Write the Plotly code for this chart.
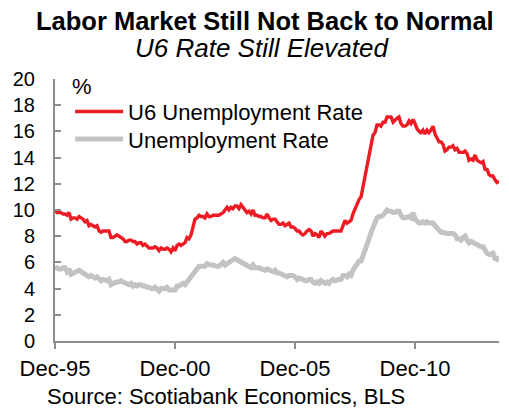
import pandas as pd
import plotly.graph_objects as go

# Monthly rates, Dec 1995 - Jun 2014 (%)
u6_rate = [
    10.0,
    9.8, 9.8, 9.8, 9.7, 9.7, 9.6, 9.8, 9.3, 9.4, 9.4, 9.3, 9.5,        # 1996
    9.4, 9.3, 9.1, 9.2, 8.8, 8.9, 8.8, 8.7, 8.8, 8.4, 8.3, 8.4,        # 1997
    8.4, 8.4, 8.4, 7.9, 7.9, 8.0, 8.1, 8.0, 7.9, 7.8, 7.6, 7.6,        # 1998
    7.7, 7.7, 7.6, 7.6, 7.4, 7.5, 7.5, 7.3, 7.4, 7.2, 7.1, 7.1,        # 1999
    7.1, 7.2, 7.1, 6.9, 7.1, 7.0, 7.0, 7.1, 7.0, 6.8, 7.1, 6.9,        # 2000
    7.3, 7.4, 7.3, 7.4, 7.5, 7.9, 7.8, 8.1, 8.7, 9.3, 9.4, 9.6,        # 2001
    9.5, 9.5, 9.4, 9.7, 9.5, 9.5, 9.6, 9.6, 9.6, 9.6, 9.7, 9.8,        # 2002
    10.0, 10.2, 10.0, 10.2, 10.1, 10.3, 10.3, 10.1, 10.4, 10.2, 10.0, 9.8,  # 2003
    9.9, 9.7, 10.0, 9.6, 9.6, 9.5, 9.5, 9.4, 9.4, 9.7, 9.4, 9.2,       # 2004
    9.3, 9.3, 9.1, 8.9, 8.9, 9.0, 8.8, 8.9, 9.0, 8.7, 8.7, 8.6,        # 2005
    8.4, 8.4, 8.2, 8.1, 8.2, 8.4, 8.5, 8.4, 8.0, 8.2, 8.1, 7.9,        # 2006
    8.4, 8.2, 8.0, 8.2, 8.2, 8.3, 8.4, 8.4, 8.4, 8.4, 8.4, 8.8,        # 2007
    9.2, 9.0, 9.1, 9.2, 9.7, 10.1, 10.5, 10.8, 11.0, 11.8, 12.6, 13.6,  # 2008
    14.2, 15.1, 15.7, 15.9, 16.5, 16.5, 16.4, 16.7, 16.7, 17.1, 17.1, 17.1,  # 2009
    16.7, 16.9, 17.0, 17.1, 16.6, 16.4, 16.4, 16.5, 16.8, 16.6, 16.9, 16.6,  # 2010
    16.2, 16.0, 15.9, 16.1, 15.8, 16.1, 15.9, 16.1, 16.4, 15.8, 15.5, 15.2,  # 2011
    15.2, 15.0, 14.5, 14.6, 14.8, 14.8, 14.9, 14.6, 14.7, 14.4, 14.4, 14.4,  # 2012
    14.5, 14.3, 13.8, 13.9, 13.8, 14.2, 13.8, 13.7, 13.6, 13.7, 13.1, 13.1,  # 2013
    12.7, 12.6, 12.6, 12.3, 12.1, 12.2,                                  # 2014
]

unemployment_rate = [
    5.6,
    5.6, 5.5, 5.5, 5.6, 5.6, 5.3, 5.5, 5.1, 5.2, 5.2, 5.4, 5.4,        # 1996
    5.3, 5.2, 5.2, 5.1, 4.9, 5.0, 4.9, 4.8, 4.9, 4.7, 4.6, 4.7,        # 1997
    4.6, 4.6, 4.7, 4.3, 4.4, 4.5, 4.5, 4.5, 4.6, 4.5, 4.4, 4.4,        # 1998
    4.3, 4.4, 4.2, 4.3, 4.2, 4.3, 4.3, 4.2, 4.2, 4.1, 4.1, 4.0,        # 1999
    4.0, 4.1, 4.0, 3.8, 4.0, 4.0, 4.0, 4.1, 3.9, 3.9, 3.9, 3.9,        # 2000
    4.2, 4.2, 4.3, 4.4, 4.3, 4.5, 4.6, 4.9, 5.0, 5.3, 5.5, 5.7,        # 2001
    5.7, 5.7, 5.7, 5.9, 5.8, 5.8, 5.8, 5.7, 5.7, 5.7, 5.9, 6.0,        # 2002
    5.8, 5.9, 5.9, 6.0, 6.1, 6.3, 6.2, 6.1, 6.1, 6.0, 5.8, 5.7,        # 2003
    5.7, 5.6, 5.8, 5.6, 5.6, 5.6, 5.5, 5.4, 5.4, 5.5, 5.4, 5.4,        # 2004
    5.3, 5.4, 5.2, 5.2, 5.1, 5.0, 5.0, 4.9, 5.0, 5.0, 5.0, 4.9,        # 2005
    4.7, 4.8, 4.7, 4.7, 4.6, 4.6, 4.7, 4.7, 4.5, 4.4, 4.5, 4.4,        # 2006
    4.6, 4.5, 4.4, 4.5, 4.4, 4.6, 4.7, 4.6, 4.7, 4.7, 4.7, 5.0,        # 2007
    5.0, 4.9, 5.1, 5.0, 5.4, 5.6, 5.8, 6.1, 6.1, 6.5, 6.8, 7.3,        # 2008
    7.8, 8.3, 8.7, 9.0, 9.4, 9.5, 9.5, 9.6, 9.8, 10.0, 9.9, 9.9,       # 2009
    9.8, 9.8, 9.9, 9.9, 9.6, 9.4, 9.4, 9.5, 9.5, 9.4, 9.8, 9.3,        # 2010
    9.1, 9.0, 9.0, 9.1, 9.0, 9.1, 9.0, 9.0, 9.0, 8.8, 8.6, 8.5,        # 2011
    8.3, 8.3, 8.2, 8.2, 8.2, 8.2, 8.2, 8.1, 7.8, 7.8, 7.7, 7.9,        # 2012
    8.0, 7.7, 7.5, 7.6, 7.5, 7.5, 7.3, 7.2, 7.2, 7.2, 6.9, 6.7,        # 2013
    6.6, 6.7, 6.7, 6.3, 6.3, 6.1,                                      # 2014
]

months = pd.date_range("1995-12-01", periods=len(u6_rate), freq="MS")

tick_dates = ["1995-12-01", "2000-12-01", "2005-12-01", "2010-12-01"]
tick_labels = ["Dec-95", "Dec-00", "Dec-05", "Dec-10"]
y_ticks = list(range(0, 21, 2))

RED = "#ED1C24"
GREY = "#C3C3C6"
AXIS = "#8C8C8C"
FONT = "Liberation Sans, Arial, sans-serif"

fig = go.Figure()
fig.add_trace(go.Scatter(
    x=months, y=u6_rate, mode="lines", name="U6 Unemployment Rate",
    line=dict(color=RED, width=3.4), legend="legend",
))
fig.add_trace(go.Scatter(
    x=months, y=unemployment_rate, mode="lines", name="Unemployment Rate",
    line=dict(color=GREY, width=5), legend="legend2",
))

legend_style = dict(
    xanchor="left", yanchor="middle",
    bgcolor="rgba(0,0,0,0)", borderwidth=0,
    font=dict(size=22, family=FONT), itemwidth=48,
)

fig.update_layout(
    width=509, height=409,
    margin=dict(l=55, r=10, t=79, b=68),
    paper_bgcolor="white", plot_bgcolor="white",
    font=dict(family=FONT, color="black"),
    showlegend=True,
    legend=dict(x=0.034, y=0.875, **legend_style),
    legend2=dict(x=0.034, y=0.770, **legend_style),
    xaxis=dict(
        range=["1995-12-01", "2014-06-01"],
        tickmode="array", tickvals=tick_dates, ticktext=tick_labels,
        ticks="outside", ticklen=6, tickwidth=1.5, tickcolor=AXIS,
        showline=True, linecolor=AXIS, linewidth=2,
        showgrid=False, zeroline=False,
        tickfont=dict(size=22, family=FONT),
        ticklabelstandoff=1,
    ),
    yaxis=dict(
        range=[0, 20],
        tickmode="array", tickvals=y_ticks,
        ticks="inside", ticklen=6, tickwidth=1.5, tickcolor=AXIS,
        showline=True, linecolor=AXIS, linewidth=2,
        showgrid=False, zeroline=False,
        tickfont=dict(size=20, family=FONT),
        ticklabelstandoff=14,
    ),
    annotations=[
        dict(text="<b>Labor Market Still Not Back to Normal</b>",
             x=0.474, y=1.2214, xref="paper", yref="paper",
             xanchor="center", yanchor="middle", showarrow=False,
             font=dict(size=25.5, family=FONT)),
        dict(text="<i>U6 Rate Still Elevated</i>",
             x=0.466, y=1.118, xref="paper", yref="paper",
             xanchor="center", yanchor="middle", showarrow=False,
             font=dict(size=26, family=FONT)),
        dict(text="%", x=0.033, y=0.973, xref="paper", yref="paper",
             xanchor="left", yanchor="middle", showarrow=False,
             font=dict(size=22, family=FONT)),
        dict(text="Source: Scotiabank Economics, BLS",
             x=-0.0225, y=-0.213, xref="paper", yref="paper",
             xanchor="left", yanchor="middle", showarrow=False,
             font=dict(size=22, family=FONT)),
    ],
)

fig.write_html("out.html")
